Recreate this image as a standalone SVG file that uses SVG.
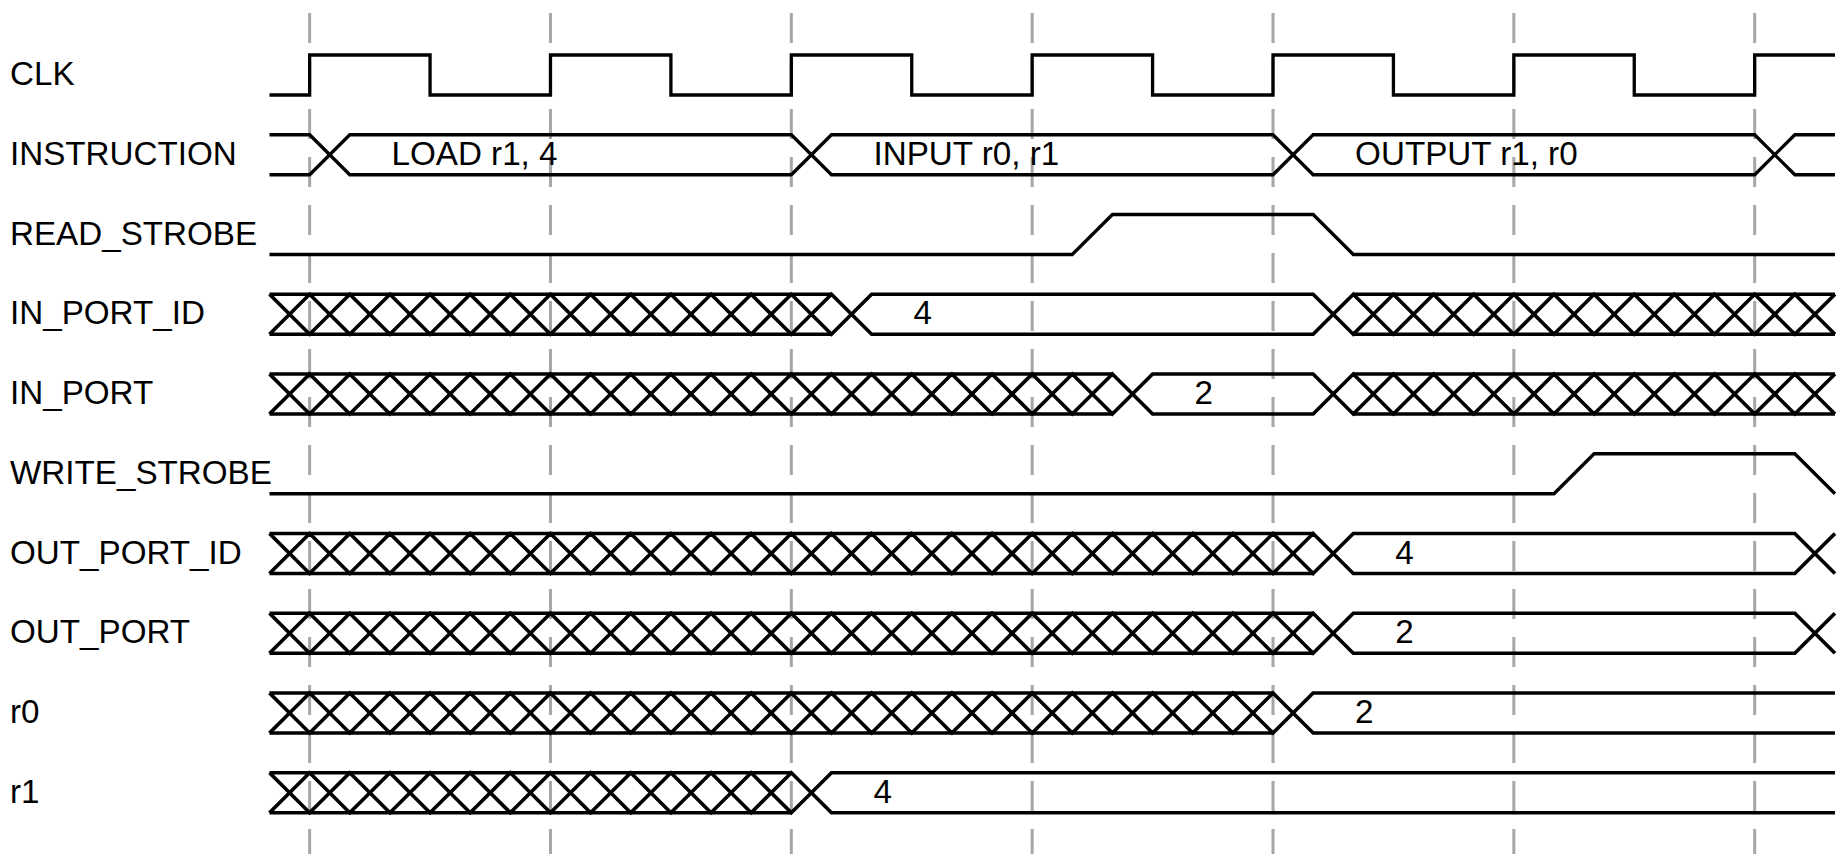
<svg xmlns="http://www.w3.org/2000/svg" width="1845" height="854" viewBox="0 0 1845 854">
<style>
.name{font-family:"Liberation Sans",Arial,sans-serif;font-size:33.2px;fill:#000}
.val{font-family:"Liberation Sans",Arial,sans-serif;font-size:33.2px;fill:#000}
.w{fill:none;stroke:#000;stroke-width:3.3;stroke-linejoin:miter;stroke-linecap:butt}
.b{fill:none;stroke:#000;stroke-width:3.7;stroke-linejoin:miter;stroke-linecap:butt}
.grid line{stroke:#a6a6a6;stroke-width:3;stroke-dasharray:30 18}
</style>
<rect width="1845" height="854" fill="#fff"/>
<g id="connectors" class="grid">
<line x1="309.64" y1="13" x2="309.64" y2="854"/>
<line x1="550.48" y1="13" x2="550.48" y2="854"/>
<line x1="791.32" y1="13" x2="791.32" y2="854"/>
<line x1="1032.16" y1="13" x2="1032.16" y2="854"/>
<line x1="1273" y1="13" x2="1273" y2="854"/>
<line x1="1513.84" y1="13" x2="1513.84" y2="854"/>
<line x1="1754.68" y1="13" x2="1754.68" y2="854"/>
</g>
<g id="sig-clk" transform="translate(0,55)">
<text class="name" x="10" y="30">CLK</text>
<g transform="translate(269.5,0)">
<path class="w" d="M0 40H40.14V0H160.56V40H280.98V0H401.4V40H521.82V0H642.24V40H762.66V0H883.08V40H1003.5V0H1123.92V40H1244.34V0H1364.76V40H1485.18V0H1565.46"/>
</g>
</g>
<g id="sig-instruction" transform="translate(0,134.75)">
<text class="name" x="10" y="30">INSTRUCTION</text>
<g transform="translate(269.5,0)">
<path class="w" d="M0 0H40.14L80.28 40H521.82L561.96 0H1003.5L1043.64 40H1485.18L1525.32 0H1565.46"/>
<path class="w" d="M0 40H40.14L80.28 0H521.82L561.96 40H1003.5L1043.64 0H1485.18L1525.32 40H1565.46"/>
<text class="val" x="122" y="30">LOAD r1, 4</text>
<text class="val" x="604" y="30">INPUT r0, r1</text>
<text class="val" x="1085.6" y="30">OUTPUT r1, r0</text>
</g>
</g>
<g id="sig-read-strobe" transform="translate(0,214.5)">
<text class="name" x="10" y="30">READ_STROBE</text>
<g transform="translate(269.5,0)">
<path class="w" d="M0 40H802.8L842.94 0H1043.64L1083.78 40H1565.46"/>
</g>
</g>
<g id="sig-in-port-id" transform="translate(0,294.25)">
<text class="name" x="10" y="30">IN_PORT_ID</text>
<g transform="translate(269.5,0)">
<path class="b" d="M0 0l40.14 40 40.14 -40 40.14 40 40.14 -40 40.14 40 40.14 -40 40.14 40 40.14 -40 40.14 40 40.14 -40 40.14 40 40.14 -40 40.14 40 40.14 -40 40.14 40H1043.64l40.14 -40 40.14 40 40.14 -40 40.14 40 40.14 -40 40.14 40 40.14 -40 40.14 40 40.14 -40 40.14 40 40.14 -40 40.14 40 40.14 -40"/>
<path class="b" d="M0 40l40.14 -40 40.14 40 40.14 -40 40.14 40 40.14 -40 40.14 40 40.14 -40 40.14 40 40.14 -40 40.14 40 40.14 -40 40.14 40 40.14 -40 40.14 40 40.14 -40H1043.64l40.14 40 40.14 -40 40.14 40 40.14 -40 40.14 40 40.14 -40 40.14 40 40.14 -40 40.14 40 40.14 -40 40.14 40 40.14 -40 40.14 40"/>
<path class="b" d="M0 0H561.96M0 40H561.96M1083.78 0H1565.46M1083.78 40H1565.46"/>
<text class="val" x="644" y="30">4</text>
</g>
</g>
<g id="sig-in-port" transform="translate(0,374)">
<text class="name" x="10" y="30">IN_PORT</text>
<g transform="translate(269.5,0)">
<path class="b" d="M0 0l40.14 40 40.14 -40 40.14 40 40.14 -40 40.14 40 40.14 -40 40.14 40 40.14 -40 40.14 40 40.14 -40 40.14 40 40.14 -40 40.14 40 40.14 -40 40.14 40 40.14 -40 40.14 40 40.14 -40 40.14 40 40.14 -40 40.14 40 40.14 -40H1043.64l40.14 40 40.14 -40 40.14 40 40.14 -40 40.14 40 40.14 -40 40.14 40 40.14 -40 40.14 40 40.14 -40 40.14 40 40.14 -40 40.14 40"/>
<path class="b" d="M0 40l40.14 -40 40.14 40 40.14 -40 40.14 40 40.14 -40 40.14 40 40.14 -40 40.14 40 40.14 -40 40.14 40 40.14 -40 40.14 40 40.14 -40 40.14 40 40.14 -40 40.14 40 40.14 -40 40.14 40 40.14 -40 40.14 40 40.14 -40 40.14 40H1043.64l40.14 -40 40.14 40 40.14 -40 40.14 40 40.14 -40 40.14 40 40.14 -40 40.14 40 40.14 -40 40.14 40 40.14 -40 40.14 40 40.14 -40"/>
<path class="b" d="M0 0H842.94M0 40H842.94M1083.78 0H1565.46M1083.78 40H1565.46"/>
<text class="val" x="925" y="30">2</text>
</g>
</g>
<g id="sig-write-strobe" transform="translate(0,453.75)">
<text class="name" x="10" y="30">WRITE_STROBE</text>
<g transform="translate(269.5,0)">
<path class="w" d="M0 40H1284.48L1324.62 0H1525.32L1565.46 40"/>
</g>
</g>
<g id="sig-out-port-id" transform="translate(0,533.5)">
<text class="name" x="10" y="30">OUT_PORT_ID</text>
<g transform="translate(269.5,0)">
<path class="b" d="M0 0l40.14 40 40.14 -40 40.14 40 40.14 -40 40.14 40 40.14 -40 40.14 40 40.14 -40 40.14 40 40.14 -40 40.14 40 40.14 -40 40.14 40 40.14 -40 40.14 40 40.14 -40 40.14 40 40.14 -40 40.14 40 40.14 -40 40.14 40 40.14 -40 40.14 40 40.14 -40 40.14 40 40.14 -40 40.14 40H1525.32l40.14 -40"/>
<path class="b" d="M0 40l40.14 -40 40.14 40 40.14 -40 40.14 40 40.14 -40 40.14 40 40.14 -40 40.14 40 40.14 -40 40.14 40 40.14 -40 40.14 40 40.14 -40 40.14 40 40.14 -40 40.14 40 40.14 -40 40.14 40 40.14 -40 40.14 40 40.14 -40 40.14 40 40.14 -40 40.14 40 40.14 -40 40.14 40 40.14 -40H1525.32l40.14 40"/>
<path class="b" d="M0 0H1043.64M0 40H1043.64"/>
<text class="val" x="1125.8" y="30">4</text>
</g>
</g>
<g id="sig-out-port" transform="translate(0,613.25)">
<text class="name" x="10" y="30">OUT_PORT</text>
<g transform="translate(269.5,0)">
<path class="b" d="M0 0l40.14 40 40.14 -40 40.14 40 40.14 -40 40.14 40 40.14 -40 40.14 40 40.14 -40 40.14 40 40.14 -40 40.14 40 40.14 -40 40.14 40 40.14 -40 40.14 40 40.14 -40 40.14 40 40.14 -40 40.14 40 40.14 -40 40.14 40 40.14 -40 40.14 40 40.14 -40 40.14 40 40.14 -40 40.14 40H1525.32l40.14 -40"/>
<path class="b" d="M0 40l40.14 -40 40.14 40 40.14 -40 40.14 40 40.14 -40 40.14 40 40.14 -40 40.14 40 40.14 -40 40.14 40 40.14 -40 40.14 40 40.14 -40 40.14 40 40.14 -40 40.14 40 40.14 -40 40.14 40 40.14 -40 40.14 40 40.14 -40 40.14 40 40.14 -40 40.14 40 40.14 -40 40.14 40 40.14 -40H1525.32l40.14 40"/>
<path class="b" d="M0 0H1043.64M0 40H1043.64"/>
<text class="val" x="1125.8" y="30">2</text>
</g>
</g>
<g id="sig-r0" transform="translate(0,693)">
<text class="name" x="10" y="30">r0</text>
<g transform="translate(269.5,0)">
<path class="b" d="M0 0l40.14 40 40.14 -40 40.14 40 40.14 -40 40.14 40 40.14 -40 40.14 40 40.14 -40 40.14 40 40.14 -40 40.14 40 40.14 -40 40.14 40 40.14 -40 40.14 40 40.14 -40 40.14 40 40.14 -40 40.14 40 40.14 -40 40.14 40 40.14 -40 40.14 40 40.14 -40 40.14 40 40.14 -40H1565.46"/>
<path class="b" d="M0 40l40.14 -40 40.14 40 40.14 -40 40.14 40 40.14 -40 40.14 40 40.14 -40 40.14 40 40.14 -40 40.14 40 40.14 -40 40.14 40 40.14 -40 40.14 40 40.14 -40 40.14 40 40.14 -40 40.14 40 40.14 -40 40.14 40 40.14 -40 40.14 40 40.14 -40 40.14 40 40.14 -40 40.14 40H1565.46"/>
<path class="b" d="M0 0H1003.5M0 40H1003.5"/>
<text class="val" x="1085.6" y="30">2</text>
</g>
</g>
<g id="sig-r1" transform="translate(0,772.75)">
<text class="name" x="10" y="30">r1</text>
<g transform="translate(269.5,0)">
<path class="b" d="M0 0l40.14 40 40.14 -40 40.14 40 40.14 -40 40.14 40 40.14 -40 40.14 40 40.14 -40 40.14 40 40.14 -40 40.14 40 40.14 -40 40.14 40 40.14 -40H1565.46"/>
<path class="b" d="M0 40l40.14 -40 40.14 40 40.14 -40 40.14 40 40.14 -40 40.14 40 40.14 -40 40.14 40 40.14 -40 40.14 40 40.14 -40 40.14 40 40.14 -40 40.14 40H1565.46"/>
<path class="b" d="M0 0H521.82M0 40H521.82"/>
<text class="val" x="604" y="30">4</text>
</g>
</g>
</svg>
